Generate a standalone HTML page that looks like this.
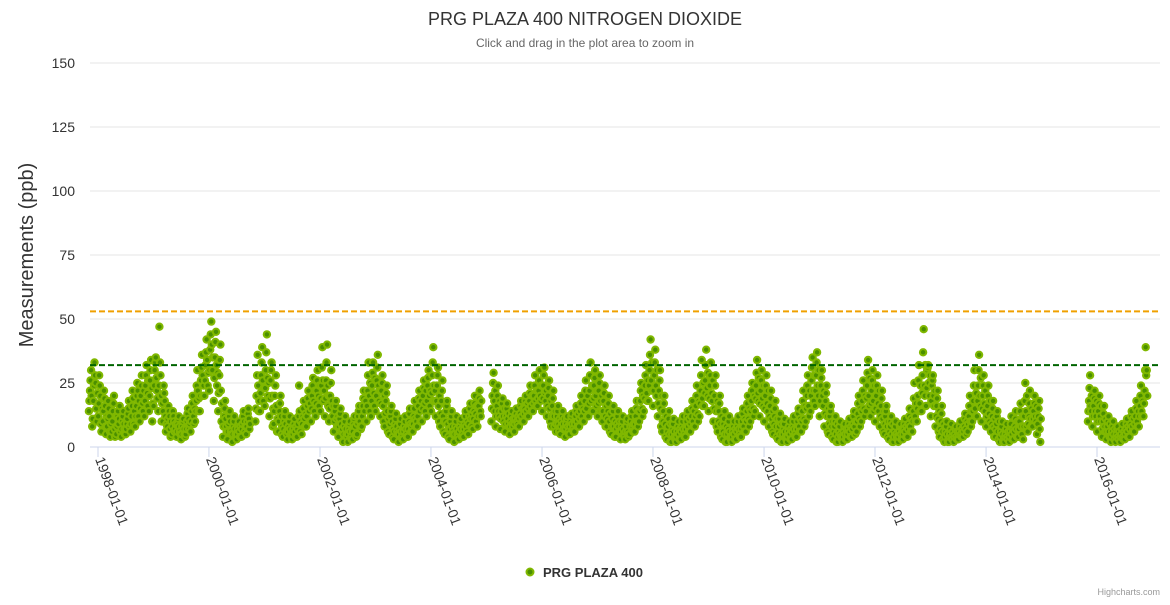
<!DOCTYPE html>
<html><head><meta charset="utf-8"><style>
body{margin:0;background:#fff;font-family:"Liberation Sans",sans-serif}
svg text{font-family:"Liberation Sans",sans-serif}
</style></head><body>
<svg id="chart" width="1170" height="600" xmlns="http://www.w3.org/2000/svg">
<text x="585" y="25" text-anchor="middle" font-size="18" fill="#333">PRG PLAZA 400 NITROGEN DIOXIDE</text>
<text x="585" y="47" text-anchor="middle" font-size="12" fill="#666">Click and drag in the plot area to zoom in</text>
<text transform="translate(33,255) rotate(-90)" text-anchor="middle" font-size="20" fill="#333">Measurements (ppb)</text>
<g id="grid"></g>
<g id="points"></g>
<g id="refs"></g>
<g id="xaxis"></g>
<g>
<circle cx="530" cy="572" r="3.5" fill="#4a8f00" stroke="#80b800" stroke-width="2"/>
<text x="543" y="577" font-size="13" font-weight="bold" fill="#333">PRG PLAZA 400</text>
</g>
<text x="1160" y="595" text-anchor="end" font-size="9" fill="#999">Highcharts.com</text>
</svg>
<script>
const yTicks=[0,25,50,75,100,125,150];
const xTickLabels=["1998-01-01","2000-01-01","2002-01-01","2004-01-01","2006-01-01","2008-01-01","2010-01-01","2012-01-01","2014-01-01","2016-01-01"];
const refLines=[53,32];
const months=[
"1997-11","1997-12",
"1998-01","1998-02","1998-03","1998-04","1998-05","1998-06","1998-07","1998-08","1998-09","1998-10","1998-11","1998-12",
"1999-01","1999-02","1999-03","1999-04","1999-05","1999-06","1999-07","1999-08","1999-09","1999-10","1999-11","1999-12",
"2000-01","2000-02","2000-03","2000-04","2000-05","2000-06","2000-07","2000-08","2000-09","2000-11","2000-12",
"2001-01","2001-02","2001-03","2001-04","2001-05","2001-06","2001-07","2001-08","2001-09","2001-10","2001-11","2001-12",
"2002-01","2002-02","2002-03","2002-04","2002-05","2002-06","2002-07","2002-08","2002-09","2002-10","2002-11","2002-12",
"2003-01","2003-02","2003-03","2003-04","2003-05","2003-06","2003-07","2003-08","2003-09","2003-10","2003-11","2003-12",
"2004-01","2004-02","2004-03","2004-04","2004-05","2004-06","2004-07","2004-08","2004-09","2004-10","2004-11",
"2005-02","2005-03","2005-04","2005-05","2005-06","2005-07","2005-08","2005-09","2005-10","2005-11","2005-12",
"2006-01","2006-02","2006-03","2006-04","2006-05","2006-06","2006-07","2006-08","2006-09","2006-10","2006-11","2006-12",
"2007-01","2007-02","2007-03","2007-04","2007-05","2007-06","2007-07","2007-08","2007-09","2007-10","2007-11","2007-12",
"2008-01","2008-02","2008-03","2008-04","2008-05","2008-06","2008-07","2008-08","2008-09","2008-10","2008-11","2008-12",
"2009-01","2009-02","2009-03","2009-04","2009-05","2009-06","2009-07","2009-08","2009-09","2009-10","2009-11","2009-12",
"2010-01","2010-02","2010-03","2010-04","2010-05","2010-06","2010-07","2010-08","2010-09","2010-10","2010-11","2010-12",
"2011-01","2011-02","2011-03","2011-04","2011-05","2011-06","2011-07","2011-08","2011-09","2011-10","2011-11","2011-12",
"2012-01","2012-02","2012-03","2012-04","2012-05","2012-06","2012-07","2012-08","2012-09","2012-10","2012-11","2012-12",
"2013-01","2013-02","2013-03","2013-04","2013-05","2013-06","2013-07","2013-08","2013-09","2013-10","2013-11","2013-12",
"2014-01","2014-02","2014-03","2014-04","2014-05","2014-06","2014-07","2014-08","2014-09","2014-10","2014-11","2014-12",
"2015-11","2015-12",
"2016-01","2016-02","2016-03","2016-04","2016-05","2016-06","2016-07","2016-08","2016-09","2016-10","2016-11"];
const monthValues=[
"14 18 22 26 30 20 8 11","18 24 33 28 25 15 10 21",
"12 17 28 24 20 9 6 15","10 14 22 19 16 8 5 12","8 11 18 15 12 6 4 9","6 10 14 17 20 7 4 12","5 8 12 14 9 11 16 6","4 7 10 12 14 9 7 5",
"5 7 9 11 13 15 18 8","6 9 12 16 22 19 9 14","8 12 16 20 25 22 12 18","10 15 20 24 28 17 14 22","12 18 24 28 32 21 16 26","14 20 26 30 34 23 10 17",
"16 24 30 33 35 27 22 19","14 24 47 33 28 20 10 17","10 14 24 21 18 12 6 9","8 11 16 14 12 7 4 10","5 8 14 12 10 6 7 9","4 6 9 11 12 8 6 5",
"3 5 8 10 11 7 5 4","5 7 10 13 15 11 7 9","6 10 14 17 20 12 9 15","10 14 18 24 30 22 14 19","14 20 26 31 36 28 20 24","20 26 32 37 42 34 24 29",
"22 30 38 44 49 40 30 35","18 27 35 41 45 32 24 29","14 21 28 34 40 22 10 17","4 8 12 15 18 11 8 6","3 6 9 12 14 10 6 5","2 5 8 10 12 7 5 4",
"3 5 7 9 10 6 4 8","4 7 9 12 14 10 6 8","5 8 10 13 15 11 7 9","10 15 20 28 36 24 14 18","14 21 28 33 39 26 18 23",
"16 23 30 37 44 27 20 25","12 19 26 30 33 20 8 15","9 14 20 24 28 16 6 11","6 10 14 17 20 12 5 8","4 7 10 12 14 9 6 5","3 6 8 10 12 7 5 4",
"3 5 7 9 11 6 4 8","4 7 9 12 24 14 6 10","5 9 12 15 18 11 8 13","8 12 16 19 22 14 10 17","10 15 20 24 27 18 14 22","12 17 22 26 30 20 16 24",
"14 19 24 31 39 26 18 22","12 19 26 33 40 24 16 20","10 15 20 25 30 18 12 16","6 10 14 16 18 11 8 12","4 8 11 13 15 9 6 7","2 5 8 10 12 7 5 4",
"2 5 7 9 10 6 4 3","3 6 9 11 12 8 5 4","5 9 12 14 16 10 8 7","8 12 16 19 22 14 10 18","10 16 22 28 33 20 14 25","12 18 24 29 33 21 16 27",
"14 20 26 31 36 24 18 22","12 17 22 25 28 16 10 20","8 13 18 21 24 14 6 11","5 9 12 14 16 10 4 7","3 6 9 11 13 8 6 5","2 5 7 9 11 6 4 3",
"3 6 8 10 12 7 5 4","4 7 10 13 15 9 6 8","6 9 12 15 18 11 8 10","8 12 16 19 22 14 10 18","10 15 20 23 26 17 14 22","12 18 24 27 30 20 16 22",
"14 21 28 33 39 24 18 22","12 18 24 28 31 16 10 20","8 13 18 22 26 12 6 10","5 10 14 16 18 9 4 7","3 7 10 12 14 8 6 5","2 5 8 10 12 7 5 4",
"3 6 8 10 11 7 4 5","4 7 9 12 14 8 6 10","5 9 12 15 17 11 8 13","7 11 14 17 20 13 10 16","8 12 16 19 22 14 12 18",
"10 15 20 25 29 18 14 22","8 12 16 20 24 14 12 18","7 11 14 17 19 12 10 15","6 9 12 15 17 11 9 13","5 8 10 12 14 9 8 11","6 9 11 13 15 10 9 12",
"8 11 13 16 18 12 10 15","10 13 15 18 20 14 12 17","12 15 18 21 24 16 14 20","14 17 20 24 28 18 16 22","16 19 22 26 30 20 18 24",
"14 19 24 28 31 21 18 22","12 16 20 23 26 15 10 18","8 12 16 19 22 12 8 14","6 9 12 14 16 9 6 11","5 8 10 12 14 9 7 11","4 7 9 11 12 8 6 5",
"5 8 10 12 13 9 7 6","6 9 12 14 16 10 8 13","8 11 14 17 20 12 10 15","10 14 18 22 26 15 12 20","12 17 22 28 33 18 14 24","14 19 24 27 30 20 16 22",
"12 17 22 25 28 18 14 20","10 14 18 21 24 12 8 16","8 11 14 17 20 10 6 13","5 8 11 14 16 8 4 10","4 7 9 12 14 8 6 10","3 6 8 10 12 7 5 4",
"3 6 8 10 11 6 4 5","5 8 10 12 14 8 6 9","6 9 12 15 18 10 8 14","10 14 18 22 25 15 12 20","14 19 24 28 32 21 18 26","18 24 30 36 42 26 22 33",
"16 22 28 33 38 24 20 30","12 17 22 26 30 15 8 20","6 10 14 17 20 9 4 12","3 6 8 11 14 5 2 9","2 5 7 9 11 6 4 3","2 4 6 8 10 5 3 7",
"3 6 8 10 12 7 5 4","4 7 10 12 14 8 6 11","6 9 12 15 18 10 8 14","8 12 16 20 24 13 10 18","12 17 22 28 34 19 16 25","16 21 26 32 38 23 20 29",
"14 19 24 28 33 21 18 26","10 15 20 24 28 14 8 18","6 10 14 17 20 9 4 12","3 6 9 11 14 5 2 8","2 5 7 10 12 6 4 3","2 4 6 8 10 5 3 7",
"3 6 8 10 12 7 5 4","4 7 10 13 15 8 6 11","6 10 14 17 20 11 8 15","10 14 18 22 25 15 12 20","14 19 24 29 34 21 18 27","12 17 22 26 30 19 16 24",
"10 15 20 24 28 17 14 22","8 12 16 19 22 11 6 14","5 9 12 15 18 8 4 11","3 6 8 11 13 5 2 9","2 5 7 9 11 6 4 3","2 4 6 8 10 5 3 7",
"3 6 8 10 12 7 5 4","4 7 10 13 15 8 6 11","6 10 14 18 22 11 8 16","10 15 20 24 28 16 12 22","14 20 26 31 35 22 18 28","16 22 28 33 37 24 20 30",
"12 18 24 27 30 20 16 22","8 13 18 21 24 12 6 15","5 9 12 14 16 8 4 10","3 6 8 10 12 5 2 9","2 4 6 8 10 5 4 3","2 4 6 8 9 5 3 7",
"3 5 7 9 11 6 4 8","4 7 9 12 14 8 5 10","6 10 13 17 20 11 8 15","10 14 18 22 26 15 12 20","14 19 24 29 34 20 16 27","12 17 22 26 30 18 14 24",
"10 15 20 24 28 17 14 22","8 12 16 19 22 11 6 14","5 9 12 14 16 8 4 10","3 6 8 10 12 5 2 9","2 4 6 8 10 5 4 3","2 4 6 8 9 5 3 7",
"3 5 7 9 11 6 4 8","4 7 9 12 15 8 6 11","6 10 14 19 25 12 10 17","10 15 20 26 32 17 14 24","14 21 28 37 46 24 20 32","16 23 30 31 32 25 20 28",
"12 18 24 26 28 20 16 22","8 12 16 19 22 11 6 14","4 7 10 13 16 6 3 9","2 4 6 8 10 5 2 3","2 4 5 7 9 4 3 6","2 4 5 7 8 4 3 6",
"3 5 6 8 10 5 4 7","4 6 8 11 13 7 5 10","6 9 12 16 20 10 8 14","10 14 18 24 30 15 12 21","12 18 24 30 36 20 16 27","10 15 20 24 28 17 14 22",
"8 12 16 20 24 13 10 18","6 9 12 15 18 8 4 11","4 7 9 12 14 6 3 10","2 4 6 8 10 5 2 3","2 4 5 7 9 4 3 6","2 4 6 9 12 5 3 7",
"3 6 8 11 14 7 4 10","4 7 10 14 17 8 5 12","3 8 12 18 25 14 8 20","6 9 12 17 22 11 8 15","8 11 14 17 20 12 10 16","5 9 12 15 18 7 2 11",
"10 14 18 23 28 16 14 20","8 12 16 19 22 14 12 18",
"6 10 14 17 20 12 10 16","4 7 10 13 16 8 6 11","3 6 8 10 12 6 4 9","2 4 6 8 10 5 3 7","2 4 5 7 8 4 3 6","2 4 5 7 9 4 3 6",
"3 5 7 9 11 6 4 8","4 7 9 12 14 8 6 11","6 9 12 15 18 10 8 14","8 12 16 20 24 14 12 18","12 17 22 30 39 28 30 20"];

const NS="http://www.w3.org/2000/svg";
const plotL=90,plotR=1160,y0=447,yTop=63;
const xStart=Date.UTC(1998,0,1),xEnd=Date.UTC(2016,0,1),px0=98,px1=1097;
function xScale(t){return px0+(t-xStart)/(xEnd-xStart)*(px1-px0);}
function yScale(v){return y0-v/150*(y0-yTop);}
function mk(tag,attrs,parent){const e=document.createElementNS(NS,tag);for(const k in attrs)e.setAttribute(k,attrs[k]);parent.appendChild(e);return e;}
const grid=document.getElementById('grid');
yTicks.forEach(v=>{
  const l=mk('line',{x1:plotL,x2:plotR,y1:yScale(v),y2:yScale(v),stroke:v===0?'#ccd6eb':'#e6e6e6','stroke-width':1},grid);
  
  
  const t=mk('text',{x:75,y:yScale(v)+5,'text-anchor':'end','font-size':14,fill:'#333'},grid);
  t.textContent=v;
  
  
});
const pts=document.getElementById('points');
months.forEach((m,i)=>{
  const [yy,mm]=m.split('-').map(Number);
  monthValues[i].split(' ').map(Number).forEach((v,j)=>{
    const t=Date.UTC(yy,mm-1,2)+j*3.6*86400000;
    const c=mk('circle',{cx:xScale(t).toFixed(1),cy:yScale(v).toFixed(1),r:3.2,fill:'#4a8f00',stroke:'#80b800','stroke-width':2},pts);
    
    
  });
});
const refs=document.getElementById('refs');
const refColors=['#f0a000','#006400'];
refLines.forEach((v,i)=>{
  const l=mk('line',{x1:plotL,x2:plotR,y1:yScale(v),y2:yScale(v),stroke:refColors[i],'stroke-width':2,'stroke-dasharray':'6,3'},refs);
  
  
});
const xa=document.getElementById('xaxis');
xTickLabels.forEach(lbl=>{
  const [yy,mm,dd]=lbl.split('-').map(Number);
  const x=xScale(Date.UTC(yy,mm-1,dd));
  const tk=mk('line',{x1:x,x2:x,y1:y0,y2:y0+10,stroke:'#ccd6eb'},xa);
  
  
  const t=mk('text',{transform:`translate(${x-3},${y0+12}) rotate(70)`,'font-size':14,fill:'#333'},xa);
  t.textContent=lbl;
  
  
});
</script>
</body></html>
